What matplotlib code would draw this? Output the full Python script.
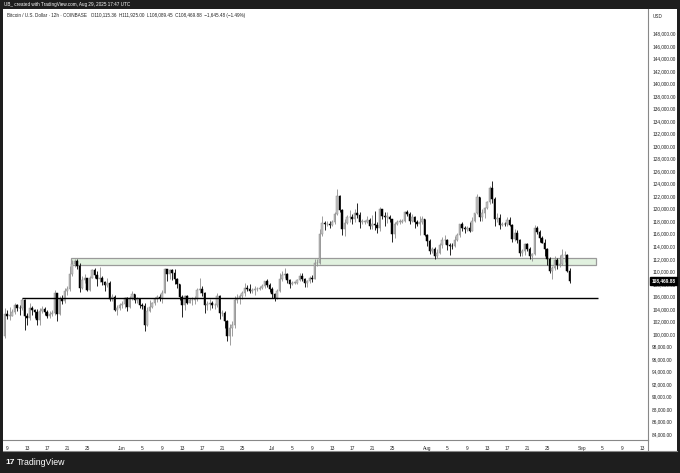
import pandas as pd
import matplotlib.pyplot as plt
import matplotlib.dates as mdates
from matplotlib.patches import Rectangle
from matplotlib.lines import Line2D

# ====== DATA (BTC/USD 12h, values in thousands) ======
first_open = 99.6
# one row per day: 00:00 candle, 12:00 candle (starts May 8 12:00)
closes = [
    103.2,
    102.9, 102.9, 103.5, 104.6, 104.2, 104.1, 105.4, 102.8, 102.6, 104.2,
    103.8, 103.5, 102.3, 103.7, 104.0, 103.5, 102.9, 103.2, 103.3, 106.5,
    103.2, 105.6, 105.3, 106.8, 107.2, 109.6, 111.2, 111.7, 110.8, 107.3,
    108.6, 108.9, 107.0, 109.0, 110.2, 109.4, 108.7, 108.9, 108.3, 107.8,
    108.1, 105.6, 105.9, 103.9, 104.2, 104.6,
    104.8, 105.7, 104.3, 105.8, 106.4, 105.4, 105.6, 104.7, 104.4, 101.5,
    103.7, 104.3, 104.9, 105.6, 105.9, 105.8, 106.6, 110.3, 109.6, 110.2,
    109.8, 108.7, 107.9, 105.9, 104.6, 106.0, 105.0, 105.4, 105.5, 105.6,
    107.0, 107.1, 106.5, 104.6, 104.8, 104.9, 104.6, 104.6, 106.0, 103.3,
    103.3, 102.1, 99.6, 100.9, 101.5, 105.4, 105.8, 106.0, 106.5, 107.3,
    107.2, 106.9, 107.0, 107.1, 107.2, 107.3, 107.6, 108.4, 107.8, 107.1,
    106.4, 105.7, 106.9, 108.8, 109.4, 109.6, 108.6, 108.0, 108.2, 108.2,
    108.6, 109.2, 108.7, 108.2, 108.4, 108.9, 108.8, 111.3, 111.4, 115.9,
    117.7, 117.5, 117.6, 117.4, 117.8, 119.1, 122.0, 119.8, 116.8, 117.7,
    118.6, 118.7, 118.3, 119.3, 119.0, 117.9, 117.9, 117.9, 118.2, 117.3,
    117.5, 117.4, 116.9, 119.9, 118.9, 118.7, 118.7, 118.3, 116.0, 117.6,
    117.9, 117.9, 118.0, 119.4, 119.2, 118.0, 118.7, 117.8, 117.6, 117.8,
    118.3, 115.8,
    114.8, 113.3, 113.5, 112.5, 113.0, 114.2, 115.0, 115.0, 114.2, 114.1,
    114.0, 115.0, 115.8, 117.5, 116.9, 116.7, 116.9, 116.5, 118.0, 119.3,
    121.8, 118.7, 119.3, 120.1, 121.0, 123.3, 121.5, 118.3, 118.5, 117.4,
    117.6, 117.5, 118.2, 117.4, 115.1, 116.2, 115.0, 112.9, 113.2, 114.3,
    113.5, 112.5, 112.8, 116.9, 116.3, 115.4, 114.6, 113.5, 112.0, 110.1,
    110.5, 111.8, 111.0, 111.2, 112.6, 112.6, 110.12, 108.47,
]
highs = [
    104.1,
    103.9, 104.3, 104.0, 104.9, 104.8, 104.6, 105.8, 105.6, 103.4, 104.9,
    104.4, 104.0, 104.0, 104.2, 104.5, 104.3, 103.8, 103.6, 103.8, 107.0,
    106.6, 106.0, 106.2, 107.3, 107.6, 110.8, 111.8, 112.0, 111.9, 111.3,
    109.2, 109.5, 109.0, 109.2, 110.4, 110.5, 110.0, 110.7, 109.3, 108.5,
    108.9, 108.4, 106.3, 106.2, 104.6, 105.0,
    105.2, 105.9, 105.9, 106.0, 106.8, 106.4, 105.9, 105.7, 105.0, 104.9,
    104.3, 105.4, 105.1, 105.9, 106.2, 106.3, 107.0, 110.5, 110.4, 110.4,
    110.4, 110.3, 108.9, 108.0, 106.2, 106.2, 106.2, 105.8, 105.9, 106.0,
    107.4, 108.9, 107.7, 106.7, 105.3, 105.6, 105.2, 105.0, 106.5, 106.2,
    103.9, 103.6, 102.2, 101.6, 102.0, 106.0, 106.3, 106.3, 106.8, 108.1,
    107.8, 108.0, 107.4, 107.6, 107.5, 107.6, 107.9, 108.5, 108.8, 108.2,
    107.5, 106.6, 107.2, 109.8, 110.0, 110.5, 109.7, 108.8, 108.4, 108.4,
    108.8, 109.7, 109.7, 109.0, 108.6, 109.2, 109.4, 112.0, 112.0, 116.8,
    118.9, 118.0, 118.0, 118.0, 118.2, 119.4, 123.2, 122.2, 120.0, 118.3,
    119.0, 119.8, 119.1, 120.0, 120.9, 119.4, 118.4, 118.2, 118.9, 118.5,
    119.0, 119.6, 117.9, 120.2, 120.0, 119.4, 119.5, 119.0, 118.4, 117.8,
    118.2, 118.4, 118.3, 119.7, 119.8, 119.4, 119.1, 118.9, 118.2, 118.8,
    118.9, 118.4,
    116.0, 115.2, 113.9, 113.9, 113.6, 114.5, 115.5, 115.8, 115.1, 114.6,
    114.6, 115.7, 116.2, 117.6, 117.8, 117.3, 117.3, 117.9, 118.6, 119.3,
    122.3, 121.9, 120.0, 120.3, 121.3, 123.7, 124.5, 121.8, 119.3, 119.2,
    117.9, 117.9, 118.6, 118.6, 117.6, 116.8, 116.6, 115.1, 113.6, 114.6,
    114.6, 113.9, 113.0, 117.4, 117.2, 116.6, 115.7, 115.2, 113.7, 112.3,
    110.9, 112.4, 112.2, 112.6, 113.5, 113.2, 112.7, 110.6,
]
lows = [
    99.3,
    102.4, 102.3, 102.8, 103.2, 103.6, 103.0, 103.8, 100.7, 101.5, 102.3,
    103.0, 102.6, 101.4, 101.5, 103.3, 103.1, 102.6, 102.6, 102.8, 103.1,
    102.1, 103.0, 104.8, 105.0, 106.2, 106.8, 109.3, 110.7, 110.3, 106.7,
    107.2, 108.2, 106.8, 106.9, 108.9, 109.0, 107.6, 108.3, 107.8, 106.8,
    107.5, 105.3, 105.2, 103.6, 103.1, 103.9,
    104.2, 104.2, 103.7, 104.1, 105.5, 104.9, 105.0, 104.2, 104.0, 100.4,
    101.3, 103.5, 104.1, 104.6, 105.1, 105.3, 105.0, 106.5, 108.4, 108.8,
    108.6, 108.0, 107.4, 105.5, 102.7, 103.9, 104.8, 104.9, 104.6, 104.8,
    105.2, 106.6, 106.1, 103.4, 103.9, 103.8, 104.1, 104.0, 104.3, 102.4,
    102.9, 101.0, 98.9, 98.2, 99.6, 101.0, 104.9, 104.8, 105.6, 106.0,
    106.8, 106.5, 106.5, 106.2, 106.8, 107.0, 107.1, 107.3, 107.5, 106.7,
    105.8, 105.3, 105.6, 106.7, 108.5, 108.9, 108.2, 107.3, 107.8, 107.9,
    108.0, 108.4, 108.4, 107.5, 107.5, 108.1, 108.3, 108.7, 110.8, 111.2,
    115.6, 116.6, 117.2, 117.0, 117.3, 117.5, 119.0, 119.5, 115.8, 115.7,
    117.5, 117.9, 117.6, 117.9, 118.5, 116.9, 117.6, 117.5, 117.7, 116.8,
    116.8, 116.6, 116.2, 116.5, 118.4, 117.3, 117.7, 117.9, 114.7, 115.4,
    117.4, 117.6, 117.7, 117.9, 118.8, 117.6, 117.8, 116.9, 117.2, 115.8,
    117.5, 115.6,
    114.0, 112.8, 113.0, 112.0, 112.2, 112.7, 113.8, 114.3, 113.4, 112.6,
    113.5, 113.9, 114.8, 115.5, 116.4, 116.2, 116.4, 116.3, 116.5, 117.9,
    119.2, 118.1, 118.1, 118.5, 119.9, 120.8, 120.9, 117.2, 117.9, 116.8,
    117.2, 117.2, 117.3, 117.3, 114.7, 114.8, 114.6, 112.4, 112.4, 112.6,
    113.3, 112.0, 111.7, 112.6, 115.9, 114.7, 114.5, 112.4, 111.0, 109.7,
    108.7, 110.2, 110.4, 110.7, 111.0, 111.5, 109.9, 108.1,
]
opens = [first_open] + closes[:-1]
times = pd.date_range("2025-05-08 12:00", periods=len(closes), freq="12h")

# time axis labels
tick_dates = ["2025-05-09", "2025-05-13", "2025-05-17", "2025-05-21", "2025-05-25",
              "2025-06-01", "2025-06-05", "2025-06-09", "2025-06-13", "2025-06-17",
              "2025-06-21", "2025-06-25", "2025-07-01", "2025-07-05", "2025-07-09",
              "2025-07-13", "2025-07-17", "2025-07-21", "2025-07-25", "2025-08-01",
              "2025-08-05", "2025-08-09", "2025-08-13", "2025-08-17", "2025-08-21",
              "2025-08-25", "2025-09-01", "2025-09-05", "2025-09-09", "2025-09-13"]
tick_labels = ["9", "13", "17", "21", "25", "Jun", "5", "9", "13", "17", "21", "25",
               "Jul", "5", "9", "13", "17", "21", "25", "Aug", "5", "9", "13", "17",
               "21", "25", "Sep", "5", "9", "13"]
price_ticks = list(range(84, 149, 2))

# drawings
zone_start, zone_end = "2025-05-21 19:00", "2025-09-03 21:00"
zone_low, zone_high = 110.95, 112.15
support_start, support_end = "2025-05-12 00:00", "2025-09-04 06:00"
support_level = 105.8
last_price = 108.46988

# ====== FIGURE ======
W, H = 680, 473
plt.rcParams["font.family"] = ["Liberation Sans", "DejaVu Sans"]
fig = plt.figure(figsize=(W / 100, H / 100), dpi=100, facecolor="#1e1e1e")

# white panel behind everything
fig.add_artist(Rectangle((3 / W, 1 - 451 / H), 674 / W, 442 / H, transform=fig.transFigure,
                         facecolor="white", edgecolor="none", zorder=-10))

ax = fig.add_axes([3 / W, 1 - 440 / H, 645 / W, 431 / H])
ax.set_facecolor("white")

x = mdates.date2num(times)
up_face, up_edge = "#c4c4c4", "#8e8e8e"
for xi, o, h, l, c in zip(x, opens, highs, lows, closes):
    up = c >= o
    ax.vlines(xi, l, h, color=up_edge if up else "black", linewidth=0.6, zorder=2)
    body = max(abs(c - o), 0.08)
    ax.bar(xi, body, bottom=min(o, c), width=0.34,
           color=up_face if up else "black",
           edgecolor=up_edge if up else "black", linewidth=0.35, zorder=3)

# zone rectangle
zx0 = mdates.date2num(pd.Timestamp(zone_start))
zx1 = mdates.date2num(pd.Timestamp(zone_end))
ax.add_patch(Rectangle((zx0, zone_low), zx1 - zx0, zone_high - zone_low,
                       facecolor="#e1f1df", edgecolor="#9a9a9a", linewidth=0.9, zorder=1))
# support line
ax.hlines(support_level, mdates.date2num(pd.Timestamp(support_start)),
          mdates.date2num(pd.Timestamp(support_end)), color="black", linewidth=1.0, zorder=4)

ax.set_xlim(mdates.date2num(pd.Timestamp("2025-05-09")) - 0.8,
            mdates.date2num(pd.Timestamp("2025-05-09")) + 128.2)
ax.set_ylim(83.06, 151.9)

ax.set_xticks(mdates.date2num(pd.to_datetime(tick_dates)))
ax.set_xticklabels(tick_labels)
ax.yaxis.tick_right()
ax.set_yticks(price_ticks)
ax.set_yticklabels([f"{p},000.00" for p in price_ticks])
ax.tick_params(axis="both", length=0, labelsize=3.4, colors="#222222")
ax.tick_params(axis="y", pad=3)
ax.tick_params(axis="x", pad=4)
for s in ["top", "left"]:
    ax.spines[s].set_visible(False)
for s in ["bottom", "right"]:
    ax.spines[s].set_color("#888888")
    ax.spines[s].set_linewidth(0.8)

# bottom of time scale + price axis column line down to it
fig.add_artist(Line2D([3 / W, 677 / W], [1 - 451 / H, 1 - 451 / H], transform=fig.transFigure,
                      color="#888888", linewidth=0.8))
fig.add_artist(Line2D([648 / W, 648 / W], [1 - 451 / H, 1 - 440 / H], transform=fig.transFigure,
                      color="#888888", linewidth=0.8))

# last price label
ax.annotate(f"{last_price * 1000:,.2f}", xy=(1.0, last_price), xycoords=("axes fraction", "data"),
            xytext=(2.3, 0), textcoords="offset points", va="center", ha="left",
            fontsize=3.4, color="white", fontweight="bold",
            bbox=dict(boxstyle="square,pad=0.3", facecolor="black", edgecolor="black"))

# texts
fig.text(4 / W, 1 - 4.5 / H, "UB_ created with TradingView.com, Aug 29, 2025 17:47 UTC",
         color="white", fontsize=3.3, va="center", ha="left")
fig.text(7 / W, 1 - 16 / H,
         "Bitcoin / U.S. Dollar · 12h · COINBASE   O110,115.36  H111,925.00  L108,089.45  "
         "C108,469.88  \u22121,645.48 (\u22121.49%)",
         color="#222222", fontsize=3.3, va="center", ha="left")
fig.text(653 / W, 1 - 16 / H, "USD", color="#222222", fontsize=3.3, va="center", ha="left")
fig.text(5 / W, 1 - 462 / H, "17", color="white", fontsize=6, fontweight="bold",
         va="center", ha="left")
fig.text(17 / W, 1 - 462 / H, "TradingView", color="white", fontsize=6.3,
         va="center", ha="left")

fig.savefig("out.png", dpi=100, facecolor=fig.get_facecolor())
